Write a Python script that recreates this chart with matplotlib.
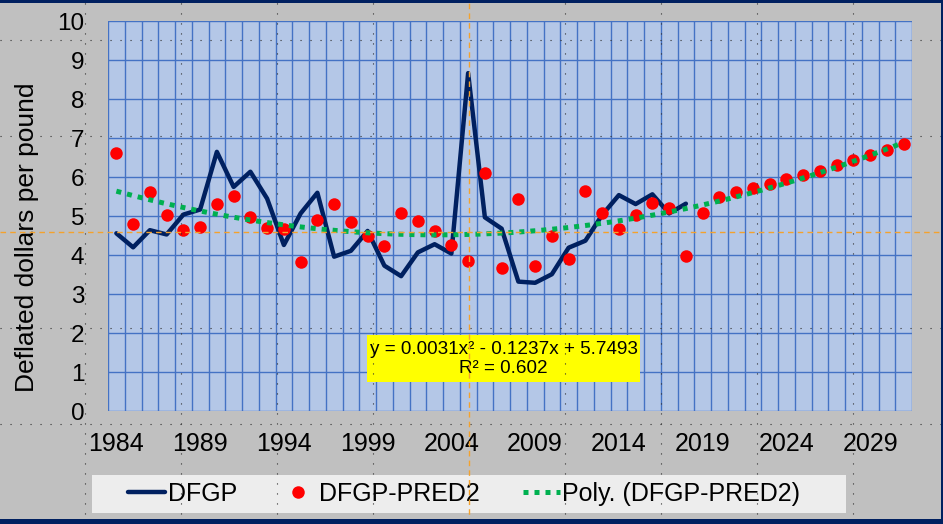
import matplotlib
matplotlib.use('Agg')
import matplotlib.pyplot as plt
import numpy as np
from matplotlib.lines import Line2D
from matplotlib.patches import Rectangle

plt.rcParams['font.family'] = ['Liberation Sans', 'DejaVu Sans']

# Data (deflated dollars per pound)
years = list(range(1984, 2032))
dfgp = [4.56, 4.20, 4.64, 4.53, 5.04, 5.17, 6.65, 5.75, 6.14, 5.45,
        4.26, 5.07, 5.60, 3.96, 4.11, 4.62, 3.73, 3.46, 4.07, 4.28,
        4.04, 8.67, 4.97, 4.68, 3.32, 3.29, 3.51, 4.19, 4.37, 5.03,
        5.54, 5.31, 5.56, 5.07, 5.32]
pred2 = [6.61, 4.81, 5.61, 5.04, 4.64, 4.71, 5.31, 5.51, 4.97, 4.69,
         4.66, 3.82, 4.90, 5.31, 4.86, 4.50, 4.23, 5.07, 4.87, 4.62,
         4.25, 3.84, 6.10, 3.68, 5.43, 3.72, 4.50, 3.90, 5.64, 5.09,
         4.68, 5.04, 5.33, 5.20, 3.97, 5.07, 5.50, 5.62, 5.73, 5.83,
         5.95, 6.06, 6.17, 6.31, 6.44, 6.56, 6.71, 6.84]
tick_years = [1984, 1989, 1994, 1999, 2004, 2009, 2014, 2019, 2024, 2029]
y_ticks = [0, 1, 2, 3, 4, 5, 6, 7, 8, 9, 10]
eq_text = "y = 0.0031x² - 0.1237x + 5.7493\nR² = 0.602"

W, H = 943, 524
def fx(px):
    return px / W
def fy(py):
    return 1 - py / H

fig = plt.figure(figsize=(9.43, 5.24), dpi=100, facecolor='#c0c0c0')
ax = fig.add_axes([fx(108), fy(411), (912 - 108) / W, (411 - 21.3) / H])
ax.set_facecolor('#b4c7e7')

# DFGP line
line1, = ax.plot(years[:len(dfgp)], dfgp, color='#002060', lw=3.2,
                 solid_joinstyle='round', solid_capstyle='round', zorder=2)
# predicted points
dots, = ax.plot(years, pred2, 'o', color='#ff0000', markersize=9,
                markeredgewidth=0, zorder=3)
# 2nd order polynomial trend, fitted like Excel does (x = 1..n)
xi = np.arange(1, len(pred2) + 1)
coef = np.polyfit(xi, pred2, 2)
xs = np.linspace(1, len(pred2), 400)
trend, = ax.plot(years[0] - 1 + xs, np.polyval(coef, xs), color='#00b050',
                 lw=3.6, linestyle=(0, (1, 1.2)), dash_capstyle='butt', zorder=4)

ax.set_xlim(years[0] - 0.5, years[-1] + 0.5)
ax.set_ylim(0, 10)
ax.set_xticks(tick_years)
ax.set_xticks([y - 0.5 for y in years] + [years[-1] + 0.5], minor=True)
ax.set_yticks(y_ticks)
ax.tick_params(axis='x', which='both', length=0, labelsize=18, pad=15)
ax.tick_params(axis='y', length=0, labelsize=17.5, pad=17)
ax.grid(which='minor', axis='x', color='#4472c4', lw=1.0)
ax.grid(which='major', axis='y', color='#4472c4', lw=1.0)
ax.set_axisbelow(True)
for s in ax.spines.values():
    s.set_visible(False)

fig.text(fx(27), fy(237.5), 'Deflated dollars per pound', rotation=90,
         ha='center', va='center', fontsize=19)

# equation box
fig.patches.append(Rectangle((fx(367), fy(382)), (640 - 367) / W, (382 - 335) / H,
                             transform=fig.transFigure, facecolor='#ffff00',
                             edgecolor='none', zorder=2))
fig.text(fx(503.5), fy(359), eq_text, ha='center', va='center',
         fontsize=13.6, linespacing=1.1, zorder=3)

# legend
fig.patches.append(Rectangle((fx(92), fy(513)), (846 - 92) / W, (513 - 475) / H,
                             transform=fig.transFigure, facecolor='#ededed',
                             edgecolor='none', zorder=2))
leg = fig.legend([line1, dots, trend], ['DFGP', 'DFGP-PRED2', 'Poly. (DFGP-PRED2)'],
                 loc='center', bbox_to_anchor=(fx(464), fy(494)), ncol=3,
                 frameon=False, fontsize=18, handlelength=1.5,
                 handletextpad=0.1, columnspacing=1.7)
leg.set_zorder(3)

# screen guide lines over the picture
for px in [85, 181, 277, 373, 565, 661, 757, 853]:
    fig.add_artist(Line2D([fx(px), fx(px)], [0, 1], transform=fig.transFigure,
                          color='#303030', lw=0.8, linestyle=(0, (1, 8)), zorder=10))
for py in [40, 136, 328, 424]:
    fig.add_artist(Line2D([0, 1], [fy(py), fy(py)], transform=fig.transFigure,
                          color='#303030', lw=0.8, linestyle=(0, (1, 8)), zorder=10))
fig.add_artist(Line2D([fx(469), fx(469)], [0, 1], transform=fig.transFigure,
                      color='#f4a22d', lw=1.0, linestyle=(0, (4, 3)), zorder=11))
fig.add_artist(Line2D([0, 1], [fy(232), fy(232)], transform=fig.transFigure,
                      color='#f4a22d', lw=1.0, linestyle=(0, (4, 3)), zorder=11))

# dark border
for r in [(0, fy(3), 1, 3 / H), (fx(941), 0, 2 / W, 1), (0, 0, 1, 5 / H)]:
    fig.patches.append(Rectangle(r[:2], r[2], r[3], transform=fig.transFigure,
                                 facecolor='#002060', edgecolor='none', zorder=12))

fig.savefig('out.png', dpi=100, facecolor=fig.get_facecolor())
